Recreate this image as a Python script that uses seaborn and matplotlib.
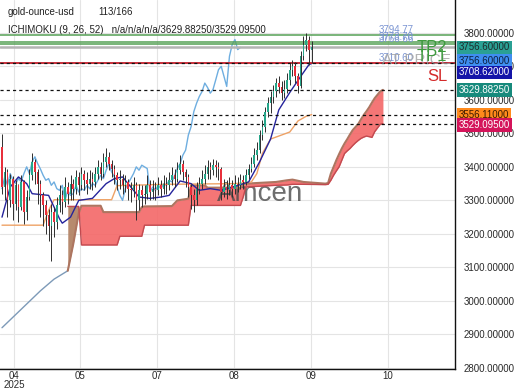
import numpy as np
import pandas as pd
import matplotlib
matplotlib.use("Agg")
import matplotlib.pyplot as plt
import seaborn as sns

# ---------------- data ----------------
first_open = 3460
closes = [3340, 3385, 3300, 3365, 3290, 3345, 3280, 3355, 3265, 3310,
          3375, 3415, 3385, 3350, 3315, 3285, 3255, 3225, 3265, 3235,
          3285, 3315, 3295, 3340, 3320, 3350, 3335, 3370, 3345, 3380,
          3360, 3350, 3365, 3356, 3380, 3400, 3380, 3415, 3430, 3410,
          3394, 3375, 3360, 3365, 3345, 3355, 3335, 3330, 3345, 3300,
          3330, 3315, 3320, 3345, 3325, 3335, 3330, 3345, 3335, 3350,
          3345, 3360, 3375, 3365, 3390, 3410, 3385, 3370, 3340, 3315,
          3300, 3335, 3350, 3365, 3380, 3400, 3390, 3405, 3400, 3395,
          3325, 3340, 3330, 3345, 3335, 3350, 3345, 3360, 3355, 3375,
          3395, 3410, 3435, 3450, 3495, 3520, 3565, 3590, 3610, 3625,
          3650, 3637, 3620, 3631, 3660, 3690, 3700, 3670, 3640, 3730,
          3765, 3780, 3750, 3756.6]
highs = [3498, 3400, 3395, 3380, 3372, 3360, 3350, 3375, 3362, 3330,
         3395, 3440, 3425, 3395, 3360, 3325, 3300, 3275, 3290, 3280,
         3310, 3345, 3330, 3370, 3355, 3375, 3365, 3390, 3385, 3400,
         3390, 3385, 3390, 3385, 3400, 3420, 3415, 3440, 3455, 3445,
         3420, 3405, 3385, 3390, 3380, 3375, 3365, 3355, 3370, 3355,
         3350, 3345, 3345, 3375, 3360, 3360, 3355, 3370, 3360, 3375,
         3370, 3385, 3400, 3395, 3415, 3435, 3420, 3395, 3380, 3350,
         3335, 3355, 3370, 3390, 3405, 3420, 3415, 3425, 3420, 3415,
         3400, 3365, 3360, 3370, 3360, 3375, 3370, 3380, 3375, 3395,
         3410, 3430, 3455, 3475, 3510, 3540, 3580, 3610, 3625, 3645,
         3665, 3670, 3655, 3660, 3680, 3710, 3720, 3712, 3680, 3745,
         3790, 3800, 3790, 3775]
lows = [3320, 3300, 3250, 3280, 3240, 3270, 3235, 3270, 3230, 3240,
        3300, 3360, 3350, 3290, 3250, 3225, 3200, 3180, 3120, 3190,
        3215, 3265, 3260, 3280, 3290, 3300, 3300, 3320, 3315, 3330,
        3330, 3320, 3335, 3330, 3340, 3365, 3360, 3370, 3400, 3390,
        3370, 3350, 3330, 3335, 3320, 3325, 3300, 3295, 3310, 3240,
        3270, 3280, 3290, 3305, 3300, 3305, 3300, 3315, 3310, 3320,
        3320, 3330, 3345, 3340, 3355, 3380, 3360, 3340, 3310, 3275,
        3265, 3285, 3320, 3335, 3350, 3365, 3365, 3375, 3370, 3360,
        3300, 3310, 3305, 3315, 3310, 3320, 3325, 3335, 3335, 3345,
        3365, 3385, 3400, 3420, 3440, 3480, 3505, 3550, 3560, 3590,
        3610, 3620, 3600, 3605, 3620, 3645, 3670, 3650, 3620, 3635,
        3720, 3745, 3705, 3710]

tenkan_bars = [0, 3, 6, 9, 11, 17, 19, 21, 22, 25, 28, 33, 38, 41, 44, 47, 50,
               54, 58, 61, 65, 69, 72, 76, 80, 85, 90, 94, 98, 101, 105, 109,
               112, 113]
tenkan_vals = [3250, 3340, 3370, 3350, 3320, 3315, 3280, 3245, 3232, 3250,
               3300, 3306, 3350, 3365, 3370, 3340, 3310, 3306, 3310, 3315,
               3358, 3350, 3330, 3335, 3330, 3342, 3355, 3415, 3483, 3570,
               3622, 3670, 3705, 3708.62]

kijun_bars = [0, 15, 17, 19, 40, 42, 60, 85, 91, 93, 95, 98, 101, 105, 108,
              111, 113]
kijun_vals = [3226, 3226, 3270, 3302, 3302, 3344, 3348, 3350, 3355, 3380,
              3440, 3483, 3492, 3504, 3537, 3551, 3556.11]

spanA_early_bars = [0, 7, 14, 19, 24]
spanA_early_vals = [2920, 2975, 3030, 3065, 3090]

span_bars = [24, 26, 28, 29, 36, 37, 42, 43, 50, 51, 52, 62, 64, 68, 69, 74,
             75, 87, 88, 89, 100, 104, 106, 110, 118, 119, 120, 121, 122, 123,
             124, 125, 126, 127, 128, 129, 130, 131, 132, 133, 134, 135, 136,
             137, 138, 139]
spanA_vals = [3090, 3170, 3262, 3284, 3284, 3265, 3265, 3265, 3265, 3280,
              3282, 3283, 3300, 3305, 3345, 3345, 3338, 3338, 3348, 3350,
              3355, 3360, 3362, 3355, 3350, 3352, 3380, 3400, 3420, 3438,
              3455, 3470, 3483, 3497, 3510, 3519, 3528, 3542, 3555, 3566,
              3578, 3592, 3605, 3615, 3625, 3629.88]
spanB_vals = [3282, 3282, 3282, 3167, 3167, 3167, 3167, 3193, 3193, 3193,
              3226, 3226, 3226, 3226, 3285, 3285, 3285, 3285, 3310, 3340,
              3345, 3346, 3348, 3348, 3347, 3348, 3360, 3375, 3388, 3400,
              3420, 3440, 3448, 3455, 3464, 3472, 3479, 3485, 3489, 3492,
              3490, 3488, 3505, 3516, 3527, 3529.095]

level_values = [3794.77, 3773.70, 3766.66, 3710.60]
level_texts = ["3794.77", "3773.70", "3766.66", "3710.60"]
last_price = 3756.60
dashed_levels = [3708.62, 3629.8825, 3556.11, 3529.095]

ytick_vals = [2800, 2900, 3000, 3100, 3200, 3300, 3400, 3500, 3600, 3700, 3800]
xtick_bars = [4.4, 28.5, 56.6, 84.7, 112.8, 140.9]
xtick_labels = ["04\n2025", "05", "07", "08", "09", "10"]

tag_values = [3756.60, 3756.60, 3708.62, 3629.8825, 3556.11, 3529.095]
tag_texts = ["3756.60000", "3756.60000", "3708.62000", "3629.88250",
             "3556.11000", "3529.09500"]
tag_bg = ["#2aa094", "#3f8ef0", "#1414a8", "#178a7c", "#ff8a1c", "#d4145a"]
tag_fg = ["#1d2b2b", "#0d1f40", "#ffffff", "#ffffff", "#3a1a00", "#ffffff"]
tag_shift = [0, -9.5, -6.5, 0, 0, -1]

# ---------------- drawing ----------------
sns.set_theme(style="whitegrid")
plt.rcParams['font.family'] = ['Liberation Sans', 'DejaVu Sans']

fig = plt.figure(figsize=(5.2, 3.9), dpi=100)
ax = fig.add_axes([0.0, 0.054, 0.875, 0.946])
ax.set_facecolor("white")

bars = np.arange(len(closes))
closes_a = np.array(closes, dtype=float)
opens_a = np.concatenate([[first_open], closes_a[:-1]])
highs_a = np.array(highs, dtype=float)
lows_a = np.array(lows, dtype=float)

# cloud
sa = np.array(spanA_vals)
sb = np.array(spanB_vals)
ax.fill_between(span_bars, sa, sb, where=sa >= sb, interpolate=True,
                color="#f46a6a", alpha=0.92, lw=0, zorder=1)
ax.fill_between(span_bars, sa, sb, where=sa < sb, interpolate=True,
                color="#b38466", alpha=0.95, lw=0, zorder=1)

# watermark
ax.text(0.571, 0.474, "Amcen", transform=ax.transAxes, fontsize=20,
        color="#4a4a4a", alpha=0.8, ha="center", va="center", zorder=1.2)

sns.lineplot(x=spanA_early_bars, y=spanA_early_vals, ax=ax, color="#7d9ab8",
             linewidth=1.0, zorder=1.5)
sns.lineplot(x=span_bars, y=spanA_vals, ax=ax, color="#ad7560",
             linewidth=1.5, zorder=1.5)
sns.lineplot(x=span_bars, y=spanB_vals, ax=ax, color="#c24a50",
             linewidth=1.0, zorder=1.5)

# ichimoku lines
sns.lineplot(x=bars[26:] - 26, y=closes_a[26:], ax=ax, color="#6eaee0",
             linewidth=1.0, zorder=2)
sns.lineplot(x=kijun_bars, y=kijun_vals, ax=ax, color="#eea266",
             linewidth=1.0, zorder=2)
sns.lineplot(x=tenkan_bars, y=tenkan_vals, ax=ax, color="#25249c",
             linewidth=1.0, zorder=2.1)

# horizontal levels
for v in level_values[:3]:
    ax.axhline(v, color="#55a055", lw=1.1, zorder=2.2)
ax.axhline(last_price, color="#b4b4b4", lw=1.8, zorder=2.2)
ax.axhline(level_values[3], color="#c4202c", lw=1.3, zorder=2.2)
for v in dashed_levels:
    ax.axhline(v, color="#111111", lw=0.9, ls=(0, (2.5, 2.5)), zorder=2.3)

# candles
ax.vlines(bars, lows_a, highs_a, color="#2e2e2e", lw=0.7, zorder=3)
body_bottom = np.minimum(opens_a, closes_a)
body_h = np.maximum(np.abs(closes_a - opens_a), 2.0)
colors = ["#26a68a" if c >= o else "#e8303c" for o, c in zip(opens_a, closes_a)]
ax.bar(bars, body_h, bottom=body_bottom, width=0.55, color=colors,
       lw=0, zorder=3.2)

# level value texts
for v, t in zip(level_values, level_texts):
    ax.text(0.833, v, t, transform=ax.get_yaxis_transform(), fontsize=7,
            color="#7a94d2", ha="left", va="bottom", zorder=4)

# TP / SL labels
ax.annotate("TP2", xy=(0.983, level_values[1]), xycoords=("axes fraction", "data"),
            xytext=(0, -4), textcoords="offset points", ha="right", va="center",
            fontsize=12, color="#3e9a3e", zorder=5)
ax.annotate("AT PRICE", xy=(0.99, level_values[3]), xycoords=("axes fraction", "data"),
            xytext=(0, 2), textcoords="offset points", ha="right", va="center",
            fontsize=11, color="#a0a0a0", alpha=0.8, zorder=4.5)
ax.annotate("TP1", xy=(0.983, level_values[2]), xycoords=("axes fraction", "data"),
            xytext=(0, -9), textcoords="offset points", ha="right", va="center",
            fontsize=12, color="#3e9a3e", zorder=5)
ax.annotate("SL", xy=(0.983, level_values[3]), xycoords=("axes fraction", "data"),
            xytext=(0, -10), textcoords="offset points", ha="right", va="center",
            fontsize=12, color="#d42a2a", zorder=5)

# header texts
ax.text(0.017, 0.967, "gold-ounce-usd", transform=ax.transAxes, fontsize=7,
        color="#222222", va="center", ha="left", zorder=5)
ax.text(0.215, 0.967, "113/166", transform=ax.transAxes, fontsize=7,
        color="#222222", va="center", ha="left", zorder=5)
ax.text(0.017, 0.919, "ICHIMOKU (9, 26, 52)   n/a/n/a/n/a/3629.88250/3529.09500",
        transform=ax.transAxes, fontsize=7, color="#222222", va="center",
        ha="left", zorder=1.8)

# axes
ax.set_xlim(-0.73, 165.3)
ax.set_ylim(2797, 3898)
ax.yaxis.tick_right()
ax.set_yticks(ytick_vals)
ax.set_yticklabels([f"{v:.5f}" for v in ytick_vals])
ax.set_xticks(xtick_bars)
ax.set_xticklabels(xtick_labels, linespacing=0.85)
ax.tick_params(axis="both", length=0, labelsize=7, colors="#2a2a2a")
ax.tick_params(axis="x", pad=1.5)
ax.tick_params(axis="y", pad=6)
ax.grid(True, color="#e4e4e4", lw=0.8)
ax.set_axisbelow(True)
for s in ["left", "top"]:
    ax.spines[s].set_visible(False)
for s in ["right", "bottom"]:
    ax.spines[s].set_visible(True)
    ax.spines[s].set_color("#111111")
    ax.spines[s].set_linewidth(1.0)
ax.set_xlabel("")
ax.set_ylabel("")

# price tags on the right
for v, t, bg, fg, sh in zip(tag_values, tag_texts, tag_bg, tag_fg, tag_shift):
    ax.annotate(t, xy=(1.0, v), xycoords=("axes fraction", "data"),
                xytext=(3, sh), textcoords="offset points", ha="left",
                va="center", fontsize=7, color=fg, annotation_clip=False,
                bbox=dict(boxstyle="square,pad=0.18", fc=bg, ec="none"),
                zorder=6)

fig.savefig("out.png", dpi=100)
